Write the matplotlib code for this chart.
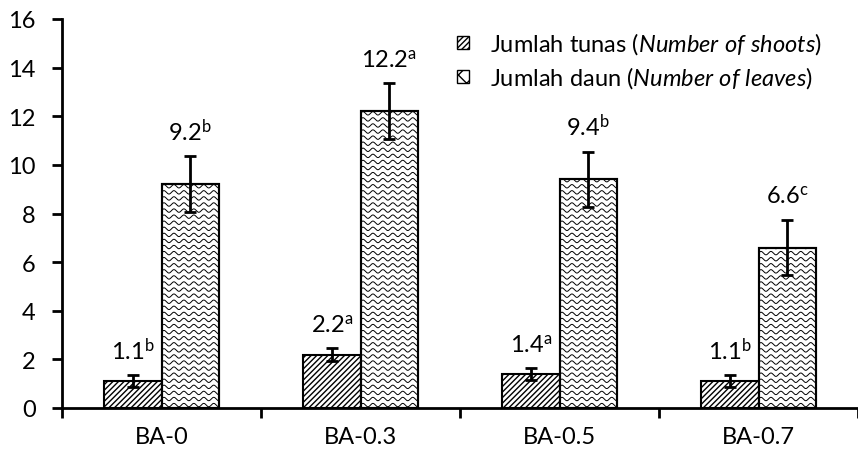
import numpy as np
import matplotlib
matplotlib.use('Agg')
import matplotlib.pyplot as plt
from matplotlib.patches import Patch

plt.rcParams['font.family'] = 'Lato'
plt.rcParams['mathtext.fontset'] = 'custom'
plt.rcParams['mathtext.rm'] = 'Lato'
plt.rcParams['mathtext.it'] = 'Lato:italic'
plt.rcParams['hatch.linewidth'] = 1.0

categories = ['BA-0', 'BA-0.3', 'BA-0.5', 'BA-0.7']
shoots = [1.1, 2.2, 1.4, 1.1]
shoots_err = [0.25, 0.25, 0.25, 0.25]
shoots_sig = ['b', 'a', 'a', 'b']
leaves = [9.2, 12.2, 9.4, 6.6]
leaves_err = [1.15, 1.15, 1.15, 1.15]
leaves_sig = ['b', 'a', 'b', 'c']

fs = 17

fig = plt.figure(figsize=(8.58, 4.56), dpi=100)
ax = fig.add_axes([62/858, 1 - 409/456, (858 - 62)/858, (409 - 20)/456])

x = np.arange(len(categories))
w = 0.2875

b1 = ax.bar(x - w/2, shoots, w, color='white', edgecolor='black', hatch='//////',
            linewidth=1.5, zorder=2)
b2 = ax.bar(x + w/2, leaves, w, color='white', edgecolor='black',
            linewidth=1.5, zorder=2)

# wavy fill for the leaves bars
for rect in b2:
    x0 = rect.get_x()
    x1 = x0 + rect.get_width()
    xx = np.linspace(x0, x1, 200)
    for yy in np.arange(0.12, rect.get_height() + 0.3, 0.25):
        line, = ax.plot(xx, yy + 0.07*np.sin(2*np.pi*(xx - x0)/0.05),
                        color='black', lw=0.7, zorder=2.5)
        line.set_clip_path(rect)
    ax.add_patch(plt.Rectangle((x0, 0), rect.get_width(), rect.get_height(),
                               fill=False, edgecolor='black', lw=1.5, zorder=3))

ax.errorbar(x - w/2, shoots, yerr=shoots_err, fmt='none', ecolor='black',
            elinewidth=2, capsize=4.5, capthick=2, zorder=4)
ax.errorbar(x + w/2, leaves, yerr=leaves_err, fmt='none', ecolor='black',
            elinewidth=2, capsize=4.5, capthick=2, zorder=4)

for i in range(len(categories)):
    ax.annotate('%.1f$^{\\mathrm{%s}}$' % (shoots[i], shoots_sig[i]),
                (x[i] - w/2, shoots[i] + shoots_err[i]), xytext=(0, 12),
                textcoords='offset points', ha='center', va='baseline', fontsize=fs)
    ax.annotate('%.1f$^{\\mathrm{%s}}$' % (leaves[i], leaves_sig[i]),
                (x[i] + w/2, leaves[i] + leaves_err[i]), xytext=(0, 12),
                textcoords='offset points', ha='center', va='baseline', fontsize=fs)

ax.set_ylim(0, 16)
ax.set_yticks(range(0, 17, 2))
ax.set_xlim(-0.5, -0.5 + (858 - 62)/200)
ax.set_xticks(x)
ax.set_xticklabels(categories)
ax.set_xticks(np.arange(-0.5, 4, 1), minor=True)
ax.tick_params(axis='x', which='major', length=0, pad=13, labelsize=fs)
ax.tick_params(axis='x', which='minor', length=7, width=2, direction='out')
ax.tick_params(axis='y', length=7, width=2, labelsize=fs, pad=12)

for s in ['top', 'right']:
    ax.spines[s].set_visible(False)
for s in ['left', 'bottom']:
    ax.spines[s].set_linewidth(2)

handles = [Patch(facecolor='white', edgecolor='black', hatch='//////'),
           Patch(facecolor='white', edgecolor='black', hatch='xx')]
labels = [r'Jumlah tunas ($\mathit{Number\ of\ shoots}$)',
          r'Jumlah daun ($\mathit{Number\ of\ leaves}$)']
ax.legend(handles, labels, loc='upper left', bbox_to_anchor=(436/858, 1 - 10/456),
          bbox_transform=fig.transFigure, frameon=False, fontsize=fs,
          handlelength=0.5, handleheight=0.5, handletextpad=0.9, labelspacing=0.35)

fig.savefig('out.png', dpi=100)
